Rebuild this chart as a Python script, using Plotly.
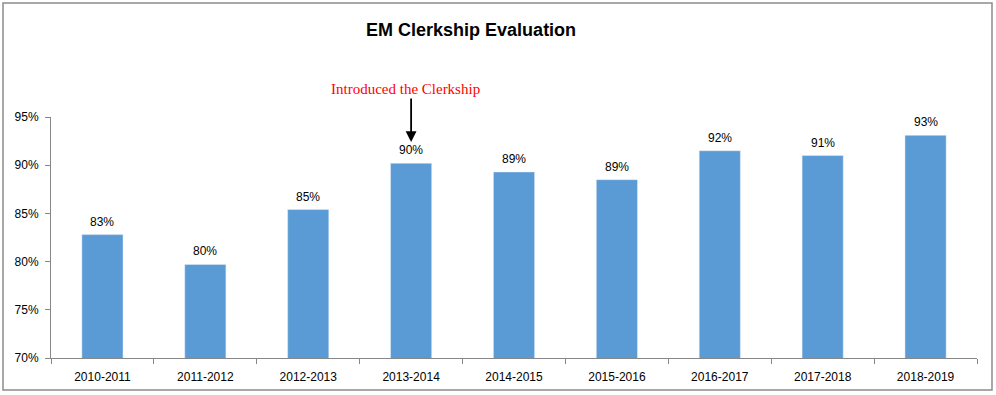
import plotly.graph_objects as go

years = ["2010-2011", "2011-2012", "2012-2013", "2013-2014", "2014-2015",
         "2015-2016", "2016-2017", "2017-2018", "2018-2019"]
scores = [82.8, 79.7, 85.4, 90.2, 89.3, 88.5, 91.5, 91.0, 93.1]
labels = ["83%", "80%", "85%", "90%", "89%", "89%", "92%", "91%", "93%"]
y_ticks = [70, 75, 80, 85, 90, 95]
y_tick_text = ["70%", "75%", "80%", "85%", "90%", "95%"]
note_text = "Introduced the Clerkship"
note_year = "2013-2014"
arrow_tip = 92.4

W, H = 996, 395
ml, mr, mt, mb = 51, 19, 117, 37
pw, ph = W - ml - mr, H - mt - mb

def px_x(px):
    return (px - ml) / pw

def px_y(py):
    return (H - mb - py) / ph

fig = go.Figure(go.Bar(x=years, y=scores, marker_color="#5B9BD5", hoverinfo="x+y"))

for yr, val, lab in zip(years, scores, labels):
    fig.add_annotation(x=yr, y=val, xref="x", yref="y", text=lab, showarrow=False,
                       yshift=13, font=dict(family="Liberation Sans", size=12, color="#000000"))

fig.update_layout(
    width=W, height=H,
    margin=dict(l=ml, r=mr, t=mt, b=mb, autoexpand=False),
    paper_bgcolor="white", plot_bgcolor="white",
    bargap=0.6, showlegend=False,
    font=dict(family="Liberation Sans", size=12, color="#000000"),
    title=dict(text="<b>EM Clerkship Evaluation</b>", x=0.473, xanchor="center",
               y=1 - 30 / H, yanchor="middle",
               font=dict(family="Liberation Sans", size=18, color="#000000")),
)
fig.update_xaxes(showline=True, linecolor="#878787", linewidth=1,
                 ticks="outside", tickson="boundaries", ticklen=5, tickcolor="#878787",
                 showgrid=False, tickfont=dict(size=12), ticklabelstandoff=8)
fig.update_yaxes(range=[70, 95], tickvals=y_ticks, ticktext=y_tick_text,
                 showline=True, linecolor="#878787", linewidth=1,
                 ticks="outside", ticklen=5, tickcolor="#878787",
                 showgrid=False, zeroline=False, tickfont=dict(size=12), ticklabelstandoff=4)

fig.add_annotation(x=note_year, y=arrow_tip, xref="x", yref="y", text="",
                   showarrow=True, ax=0, ay=-45, arrowhead=2, arrowsize=1.2,
                   arrowwidth=1.8, arrowcolor="#000000")
fig.add_annotation(x=note_year, y=arrow_tip, xref="x", yref="y", text=note_text,
                   showarrow=False, xshift=-6, yshift=53,
                   font=dict(family="Liberation Serif", size=15, color="#FF0000"))

fig.add_shape(type="rect", xref="paper", yref="paper",
              x0=px_x(3), x1=px_x(992), y0=px_y(390), y1=px_y(3),
              line=dict(color="#8c8c8c", width=1.5), layer="below")

fig.write_html("out.html", config={"displayModeBar": False},
               post_script="document.body.style.margin='0';")
